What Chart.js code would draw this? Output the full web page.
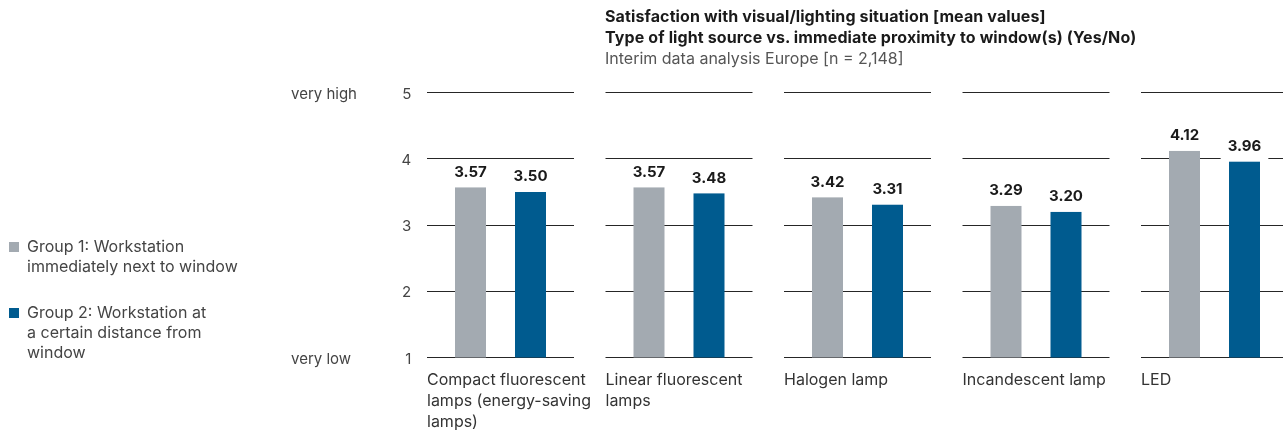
<!DOCTYPE html>
<html>
<head>
<meta charset="utf-8">
<script src="https://cdn.jsdelivr.net/npm/chart.js@4/dist/chart.umd.min.js"></script>
<style>
  html, body { margin: 0; padding: 0; background: #fff; overflow: hidden; width: 1283px; height: 435px; }
  body { position: relative; font-family: Inter, "Liberation Sans", sans-serif; }
  #wrap { position: absolute; left: 0; top: 0; width: 1310px; height: 435px; }
  .txt { position: absolute; white-space: nowrap; font-size: 16px; }
  #title { left: 605px; top: 6.2px; line-height: 21px; }
  #title .b { font-weight: 700; color: #1a1a1a; letter-spacing: 0.12px; }
  #title .n { color: #555; }
  .leg { position: absolute; left: 0; }
  .leg .sw { position: absolute; left: 9px; width: 10px; height: 10px; }
  .leg .lt { position: absolute; left: 27px; top: 0; line-height: 20px; font-size: 16px; color: #444; white-space: nowrap; }
</style>
</head>
<body>
<div id="wrap"><canvas id="c"></canvas></div>
<div id="title" class="txt"></div>
<div id="legend"></div>
<script>
// ---- data ----
const titleLines = ['Satisfaction with visual/lighting situation [mean values]', 'Type of light source vs. immediate proximity to window(s) (Yes/No)'];
const subtitle = 'Interim data analysis Europe [n = 2,148]';
const categories = [
  ['Compact fluorescent', 'lamps (energy-saving', 'lamps)'],
  ['Linear fluorescent', 'lamps'],
  ['Halogen lamp'],
  ['Incandescent lamp'],
  ['LED']
];
const group1Values = [3.57, 3.57, 3.42, 3.29, 4.12];
const group2Values = [3.50, 3.48, 3.31, 3.20, 3.96];
const seriesNames = [
  ['Group 1: Workstation', 'immediately next to window'],
  ['Group 2: Workstation at', 'a certain distance from', 'window']
];
const yTickValues = [1, 2, 3, 4, 5];
const yEndLabels = { 5: 'very high', 1: 'very low' };

// ---- style ----
const FONT = 'Inter, "Liberation Sans", sans-serif';
const COLORS = ['#a3aab1', '#005b8f'];
const GRID_COLOR = '#262626';
const SEGMENT_FRACTION = 147 / 178.5;
const Y_LABEL_SHIFT = 1.5;

Chart.defaults.font.family = FONT;

// title
const titleEl = document.getElementById('title');
titleLines.forEach(t => { const d = document.createElement('div'); d.className = 'b'; d.textContent = t; titleEl.appendChild(d); });
{ const d = document.createElement('div'); d.className = 'n'; d.textContent = subtitle; titleEl.appendChild(d); }

// legend
const legendTops = [235.8, 302.3];
const legendEl = document.getElementById('legend');
seriesNames.forEach((lines, i) => {
  const g = document.createElement('div');
  g.className = 'leg';
  g.style.top = legendTops[i] + 'px';
  const sw = document.createElement('div');
  sw.className = 'sw'; sw.style.background = COLORS[i]; sw.style.top = '6px';
  const lt = document.createElement('div');
  lt.className = 'lt';
  lt.innerHTML = lines.map(l => l.replace(/&/g, '&amp;').replace(/</g, '&lt;')).join('<br>');
  g.appendChild(sw); g.appendChild(lt);
  legendEl.appendChild(g);
});

const segPlugin = {
  id: 'segments',
  beforeDatasetsDraw(chart) {
    const { ctx, scales: { x, y } } = chart;
    const slot = x.width / categories.length;
    const half = slot * SEGMENT_FRACTION / 2;
    ctx.save();
    ctx.strokeStyle = GRID_COLOR;
    ctx.lineWidth = 1;
    categories.forEach((c, i) => {
      const cx = x.getPixelForValue(i);
      yTickValues.forEach(v => {
        const py = Math.round(y.getPixelForValue(v) - 0.5) + 0.5;
        ctx.beginPath();
        ctx.moveTo(cx - half, py);
        ctx.lineTo(cx + half, py);
        ctx.stroke();
      });
    });
    ctx.restore();
  },
  afterDatasetsDraw(chart) {
    const { ctx } = chart;
    ctx.save();
    ctx.font = 'bold 15px ' + FONT;
    ctx.textAlign = 'center';
    ctx.textBaseline = 'alphabetic';
    chart.data.datasets.forEach((ds, di) => {
      const meta = chart.getDatasetMeta(di);
      meta.data.forEach((bar, j) => {
        const txt = ds.data[j].toFixed(2);
        const w = ctx.measureText(txt).width;
        const base = bar.y - 10.5;
        ctx.fillStyle = '#ffffff';
        ctx.fillRect(bar.x - w / 2 - 7, base - 14, w + 14, bar.y - (base - 14));
        ctx.fillStyle = '#1a1a1a';
        ctx.fillText(txt, bar.x, base);
      });
    });
    ctx.restore();
  },
  afterDraw(chart) {
    const { ctx, scales: { y } } = chart;
    ctx.save();
    ctx.font = '15px ' + FONT;
    ctx.fillStyle = '#444';
    ctx.textAlign = 'left';
    ctx.textBaseline = 'middle';
    Object.keys(yEndLabels).forEach(k => {
      ctx.fillText(yEndLabels[k], 291, y.getPixelForValue(Number(k)) + Y_LABEL_SHIFT);
    });
    ctx.restore();
  }
};

new Chart(document.getElementById('c'), {
  type: 'bar',
  data: {
    labels: categories,
    datasets: [
      { label: seriesNames[0].join(' '), data: group1Values, backgroundColor: COLORS[0], borderWidth: 0, categoryPercentage: 120 / 178.5, barPercentage: 31 / 60 },
      { label: seriesNames[1].join(' '), data: group2Values, backgroundColor: COLORS[1], borderWidth: 0, categoryPercentage: 120 / 178.5, barPercentage: 31 / 60 }
    ]
  },
  options: {
    responsive: true,
    maintainAspectRatio: false,
    animation: false,
    devicePixelRatio: 1,
    layout: { padding: { top: 92.5, right: 6.25, bottom: 0, left: 0 } },
    plugins: { legend: { display: false }, tooltip: { enabled: false }, title: { display: false } },
    scales: {
      x: {
        type: 'category',
        offset: true,
        grid: { display: false, drawTicks: false },
        border: { display: false },
        ticks: {
          autoSkip: false, maxRotation: 0, minRotation: 0,
          align: 'start', labelOffset: -73.5, padding: 12,
          color: '#333', font: { family: FONT, size: 16, lineHeight: '21px' }
        },
        afterFit(scale) { scale.height = 77.5; }
      },
      y: {
        min: 1, max: 5,
        grid: { display: false, drawTicks: false },
        border: { display: false },
        ticks: { stepSize: 1, padding: 0, labelOffset: Y_LABEL_SHIFT, color: '#444', font: { family: FONT, size: 15 } },
        afterFit(scale) { scale.width = 411.25; }
      }
    }
  },
  plugins: [segPlugin]
});
</script>
</body>
</html>
